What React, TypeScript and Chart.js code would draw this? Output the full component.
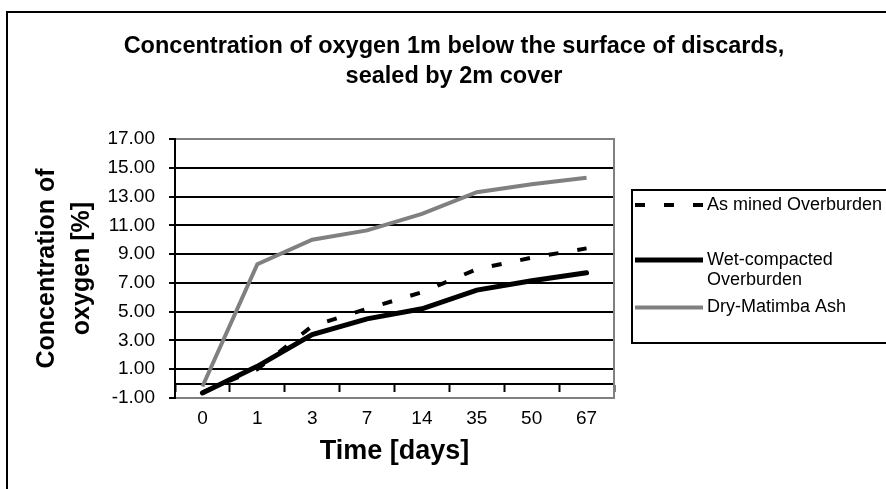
import React, { useEffect, useRef } from "react";
import { Chart, registerables } from "chart.js";

Chart.register(...registerables);

// ---- data ----
const categories = ["0", "1", "3", "7", "14", "35", "50", "67"];
const asMinedOverburden = [-0.6, 1.0, 4.0, 5.2, 6.35, 7.95, 8.75, 9.4];
const wetCompactedOverburden = [-0.65, 1.2, 3.4, 4.5, 5.2, 6.5, 7.15, 7.7];
const dryMatimbaAsh = [-0.2, 8.3, 10.0, 10.65, 11.8, 13.3, 13.85, 14.3];
const seriesNames = ["As mined Overburden", "Wet-compacted Overburden", "Dry-Matimba Ash"];
const yMin = -1;
const yMax = 17;
const yStep = 2;
const chartTitle = ["Concentration of oxygen 1m below the surface of discards,", "sealed by 2m cover"];
const xAxisTitle = "Time [days]";
const yAxisTitle = ["Concentration of", "oxygen [%]"];

// ---- styles ----
const FONT = '"Liberation Sans", Arial, Helvetica, sans-serif';
const GRAY = "#808080";
const BLACK = "#000000";

function wrapText(ctx: CanvasRenderingContext2D, text: string, maxWidth: number): string[] {
  const words = text.split(" ");
  const lines: string[] = [];
  let cur = "";
  for (const w of words) {
    const t = cur ? cur + " " + w : w;
    if (cur && ctx.measureText(t).width > maxWidth) {
      lines.push(cur);
      cur = w;
    } else {
      cur = t;
    }
  }
  if (cur) lines.push(cur);
  return lines;
}

const outerBorder = {
  id: "outerBorder",
  beforeDraw(chart: any) {
    const ctx = chart.ctx;
    ctx.save();
    ctx.strokeStyle = BLACK;
    ctx.lineWidth = 2;
    ctx.strokeRect(7, 12, chart.width + 20, chart.height + 20);
    ctx.restore();
  },
};

const boxLegend = {
  id: "boxLegend",
  afterDraw(chart: any) {
    const ctx: CanvasRenderingContext2D = chart.ctx;
    const boxX = 632;
    const boxY = 190;
    const boxH = 153;
    const rowsY = [205, 260, 307.5];
    const lineX0 = 635;
    const lineX1 = 703;
    const textX = 707;
    ctx.save();
    ctx.setLineDash([]);
    ctx.strokeStyle = BLACK;
    ctx.lineWidth = 2;
    ctx.strokeRect(boxX, boxY, chart.width - boxX + 20, boxH);
    ctx.font = `18px ${FONT}`;
    ctx.textBaseline = "middle";
    ctx.textAlign = "left";
    chart.data.datasets.forEach((ds: any, i: number) => {
      const y = rowsY[i];
      ctx.beginPath();
      ctx.strokeStyle = ds.borderColor;
      ctx.lineWidth = ds.borderWidth;
      ctx.lineCap = "butt";
      ctx.setLineDash(ds.borderDash || []);
      ctx.moveTo(lineX0, y);
      ctx.lineTo(lineX1, y);
      ctx.stroke();
      ctx.setLineDash([]);
      ctx.fillStyle = BLACK;
      const lines = wrapText(ctx, ds.label, chart.width - textX);
      lines.forEach((l, j) => ctx.fillText(l, textX, y + j * 20));
    });
    ctx.restore();
  },
};

export default function App() {
  const ref = useRef<HTMLCanvasElement>(null);
  useEffect(() => {
    document.body.style.margin = "0";
    document.body.style.overflow = "hidden";
    const chart = new Chart(ref.current as HTMLCanvasElement, {
      type: "line",
      data: {
        labels: categories,
        datasets: [
          {
            label: seriesNames[0],
            data: asMinedOverburden,
            borderColor: BLACK,
            backgroundColor: BLACK,
            borderWidth: 4,
            borderDash: [10, 19],
            pointRadius: 0,
            tension: 0,
            fill: false,
            order: 3,
          },
          {
            label: seriesNames[1],
            data: wetCompactedOverburden,
            borderColor: BLACK,
            backgroundColor: BLACK,
            borderWidth: 5,
            borderCapStyle: "round",
            pointRadius: 0,
            tension: 0,
            fill: false,
            order: 2,
          },
          {
            label: seriesNames[2],
            data: dryMatimbaAsh,
            borderColor: GRAY,
            backgroundColor: GRAY,
            borderWidth: 4,
            pointRadius: 0,
            tension: 0,
            fill: false,
            order: 1,
          },
        ],
      },
      options: {
        responsive: false,
        animation: false,
        devicePixelRatio: 1,
        layout: { padding: { left: 22, right: 0, top: 0, bottom: 0 } },
        plugins: {
          legend: { display: false },
          tooltip: { enabled: false },
          title: {
            display: true,
            text: chartTitle,
            color: BLACK,
            font: { family: FONT, size: 23.5, weight: "bold", lineHeight: 30 / 23.5 },
            padding: { top: 32, bottom: 47 },
          },
        },
        scales: {
          x: {
            type: "category",
            position: "bottom",
            offset: true,
            grid: { display: false, drawTicks: false },
            border: { display: true, color: GRAY, width: 2 },
            ticks: {
              color: BLACK,
              font: { family: FONT, size: 19 },
              padding: 9,
              maxRotation: 0,
              autoSkip: false,
            },
            title: {
              display: true,
              text: xAxisTitle,
              color: BLACK,
              font: { family: FONT, size: 27, weight: "bold" },
              padding: { top: 0, bottom: 21 },
            },
            afterFit: (s: any) => {
              s.height = 91;
            },
          },
          x2: {
            type: "category",
            display: true,
            position: { y: 0 },
            offset: true,
            grid: {
              display: true,
              drawOnChartArea: false,
              drawTicks: true,
              tickLength: 7,
              tickColor: BLACK,
              tickWidth: 2,
              offset: true,
            },
            border: { display: true, color: BLACK, width: 2 },
            ticks: { display: false },
            afterFit: (s: any) => {
              s.height = 0;
            },
          },
          y: {
            type: "linear",
            position: "left",
            min: yMin,
            max: yMax,
            ticks: {
              stepSize: yStep,
              callback: (v: any) => Number(v).toFixed(2),
              color: BLACK,
              font: { family: FONT, size: 19 },
              padding: 14,
            },
            grid: {
              color: (c: any) =>
                c.tick && (c.tick.value === yMax || c.tick.value === yMin) ? GRAY : BLACK,
              lineWidth: 2,
              tickLength: 6,
              tickColor: BLACK,
              tickWidth: 2,
            },
            border: { display: true, color: BLACK, width: 2 },
            title: {
              display: true,
              text: yAxisTitle,
              color: BLACK,
              font: { family: FONT, size: 25, weight: "bold", lineHeight: 1.4 },
              padding: { top: 7.5, bottom: 0 },
            },
            afterFit: (s: any) => {
              s.width = 153;
            },
          },
          y2: {
            type: "linear",
            position: "right",
            display: true,
            grid: { display: false, drawTicks: false },
            ticks: { display: false },
            border: { display: true, color: GRAY, width: 2 },
            afterFit: (s: any) => {
              s.width = 272;
            },
          },
        },
      } as any,
      plugins: [outerBorder, boxLegend],
    });
    return () => chart.destroy();
  }, []);
  return <canvas ref={ref} width={886} height={489} style={{ display: "block" }} />;
}
